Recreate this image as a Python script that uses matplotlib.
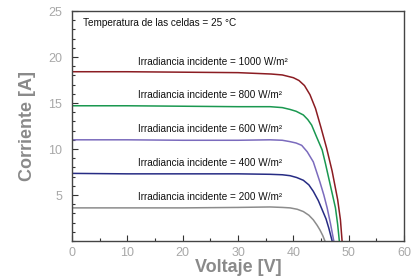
import matplotlib
matplotlib.use("Agg")
import matplotlib.pyplot as plt
from matplotlib.ticker import MultipleLocator

plt.rcParams["font.family"] = ["Liberation Sans", "DejaVu Sans"]

# I-V curves (voltage [V], current [A])
v_1000 = [0, 10, 20, 30, 36, 38, 40, 41, 42, 43, 44, 45, 46, 47, 48, 48.5, 48.8]
i_1000 = [18.4, 18.4, 18.35, 18.3, 18.15, 18.05, 17.75, 17.45, 16.9, 15.9, 14.4, 12.3, 10.1, 7.6, 4.5, 2.3, 0]

v_800 = [0, 10, 20, 30, 35.8, 38, 39.4, 40.5, 41.8, 42.6, 43.3, 44.2, 44.7, 45.2, 45.8, 46.4, 47, 47.6, 48, 48.3]
i_800 = [14.7, 14.7, 14.65, 14.6, 14.6, 14.5, 14.3, 14.1, 13.7, 13.2, 12.6, 11.3, 10.6, 9.9, 8.4, 6.8, 5.2, 3.6, 1.8, 0]

v_600 = [0, 10, 20, 30, 35.8, 38, 39.4, 40.5, 41.5, 42.5, 43.6, 44.8, 45.5, 46.1, 46.7, 47.3]
i_600 = [11.0, 11.0, 10.95, 10.95, 11.0, 10.95, 10.8, 10.65, 10.4, 9.7, 8.6, 6.4, 5.0, 3.6, 1.9, 0]

v_400 = [0, 10, 20, 30, 35.8, 38, 39.4, 40.6, 41.8, 42.8, 43.6, 44.5, 45.2, 45.9, 46.4, 47.0]
i_400 = [7.35, 7.3, 7.3, 7.3, 7.25, 7.2, 7.1, 6.9, 6.6, 6.1, 5.4, 4.4, 3.4, 2.4, 1.4, 0]

v_200 = [0, 10, 20, 30, 35.8, 38, 39.4, 40.7, 41.8, 42.8, 43.6, 44.3, 44.8, 45.3, 45.7]
i_200 = [3.6, 3.6, 3.6, 3.65, 3.7, 3.65, 3.6, 3.45, 3.2, 2.8, 2.3, 1.7, 1.2, 0.6, 0]

curves = [
    (v_1000, i_1000, "#8b1c22", "Irradiancia incidente = 1000 W/m²", 19.45),
    (v_800, i_800, "#1a9850", "Irradiancia incidente = 800 W/m²", 15.9),
    (v_600, i_600, "#7b6bbd", "Irradiancia incidente = 600 W/m²", 12.2),
    (v_400, i_400, "#272c84", "Irradiancia incidente = 400 W/m²", 8.5),
    (v_200, i_200, "#8c8c8c", "Irradiancia incidente = 200 W/m²", 4.8),
]

fig = plt.figure(figsize=(4.17, 2.76), dpi=100)
ax = fig.add_axes([0.1727, 0.1268, 0.7963, 0.8333])

for v, i, color, label, ylab in curves:
    ax.plot(v, i, color=color, lw=1.1)
    ax.text(12, ylab, label, fontsize=7.2, color="#111111", va="center")

ax.text(2, 23.7, "Temperatura de las celdas = 25 °C", fontsize=7.2,
        color="#111111", va="center")

ax.set_xlim(0, 60)
ax.set_ylim(0, 25)
ax.xaxis.set_major_locator(MultipleLocator(10))
ax.xaxis.set_minor_locator(MultipleLocator(5))
ax.yaxis.set_major_locator(MultipleLocator(5))
ax.yaxis.set_minor_locator(MultipleLocator(1))
ax.set_yticks([5, 10, 15, 20, 25])

ax.tick_params(which="both", direction="in", colors="#333333",
               labelcolor="#a8a8a8", labelsize=9)
ax.tick_params(which="major", length=4, width=0.8)
ax.tick_params(which="minor", length=2, width=0.8)
ax.tick_params(axis="y", pad=7)
ax.tick_params(axis="x", pad=4)

for s in ax.spines.values():
    s.set_color("#444444")
    s.set_linewidth(1.0)

ax.set_xlabel("Voltaje [V]", fontsize=13, fontweight="bold", color="#8a8a8a",
              labelpad=0)
ax.set_ylabel("Corriente [A]", fontsize=13, fontweight="bold", color="#8a8a8a",
              labelpad=9)

fig.savefig("out.png", dpi=100)
